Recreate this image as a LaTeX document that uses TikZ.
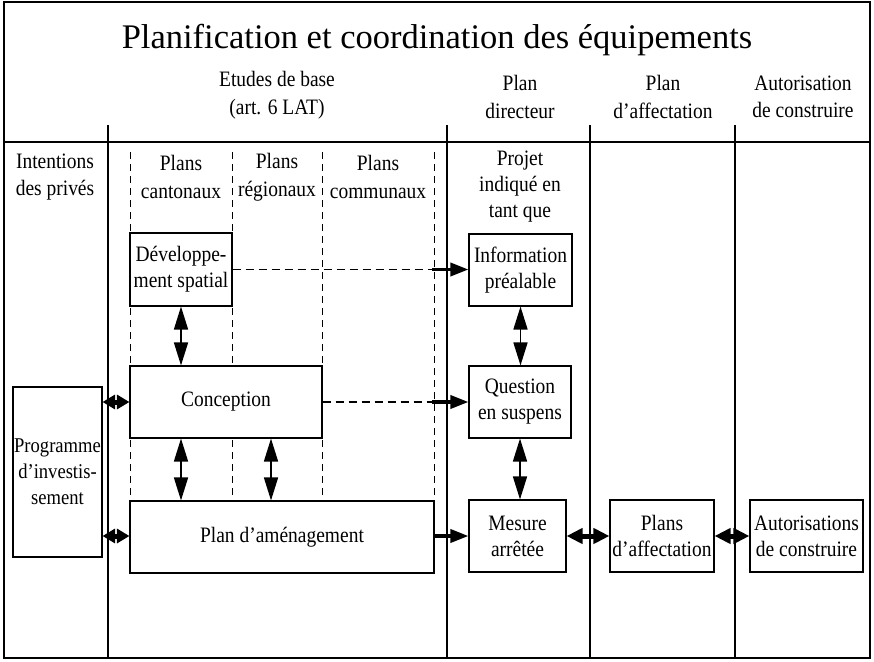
\documentclass[tikz,border=0pt]{standalone}
\usepackage{fontspec}
\setmainfont{Liberation Serif}[FakeStretch=0.885]
\newfontfamily\titlefont{Liberation Serif}
\usetikzlibrary{arrows.meta,calc}
\begin{document}
\begin{tikzpicture}[x=1pt,y=-1pt,
  txt/.style={font=\fontsize{22}{26}\selectfont, align=center, inner sep=0pt},
  htxt/.style={font=\fontsize{22}{27.5}\selectfont, align=center, inner sep=0pt},
  box/.style={draw, line width=1.1pt, fill=white, txt},
  frame/.style={line width=1.1pt},
  vdash/.style={dash pattern=on 7pt off 5pt, line width=1pt},
  hdash/.style={dash pattern=on 8pt off 5pt, line width=1.1pt},
  dbl/.style={line width=1.6pt, {Triangle[length=23pt,width=14pt]}-{Triangle[length=23pt,width=14pt]}},
  sdbl/.style={line width=5pt, {Triangle[length=16pt,width=15pt]}-{Triangle[length=16pt,width=15pt]}},
  ssdbl/.style={line width=5pt, {Triangle[length=12.5pt,width=14pt]}-{Triangle[length=12.5pt,width=14pt]}},
  thickarr/.style={line width=3.5pt, -{Triangle[length=18pt,width=13pt]}}
]
\useasboundingbox (0,0) rectangle (874,661);

% frame and columns
\draw[frame] (4,2) rectangle (870,658);
\draw[frame] (4,142) -- (870,142);
\foreach \xx in {108,447,590,735} \draw[frame] (\xx,125) -- (\xx,658);

% dashed column separators
\foreach \xx in {130,232,322,434} \draw[vdash] (\xx,152) -- (\xx,500);

% header texts
\node[inner sep=0pt, font=\titlefont\fontsize{34.5}{40}\selectfont] (title) at (437,40) {Planification et coordination des équipements};
\node[htxt] (etudes) at (277,95) {Etudes de base\\(art. 6 LAT)};
\node[htxt] (pd) at (520,97) {Plan\\directeur};
\node[htxt] (pa) at (663,97) {Plan\\d’affectation};
\node[htxt] (ac) at (803,97) {Autorisation\\de construire};

\node[htxt] (intent) at (55,177) {Intentions\\des privés};
\node[htxt] (cant) at (181,177) {Plans\\cantonaux};
\node[htxt] (reg) at (277,177) {Plans\\régionaux};
\node[htxt] (comm) at (378,177) {Plans\\communaux};
\node[txt] (projet) at (520,187) {Projet\\indiqué en\\tant que};

% boxes
\node[box, minimum width=102pt, minimum height=73pt] (dev) at (181,269.5) {Développe-\\ment spatial};
\node[box, minimum width=192pt, minimum height=72pt] (conc) at (226,402) {Conception};
\node[box, minimum width=304pt, minimum height=72pt] (amen) at (282,537) {Plan d’aménagement};
\node[box, minimum width=89pt, minimum height=170pt, font=\fontsize{21}{26}\selectfont] (prog) at (57.5,472) {Programme\\d’investis-\\sement};
\node[box, minimum width=103pt, minimum height=72pt] (info) at (520.5,270) {Information\\préalable};
\node[box, minimum width=102pt, minimum height=72pt] (quest) at (520,402) {Question\\en suspens};
\node[box, minimum width=97pt, minimum height=72pt] (mes) at (517.5,536) {Mesure\\arrêtée};
\node[box, minimum width=104pt, minimum height=72pt] (paff) at (662,536) {Plans\\d’affectation};
\node[box, minimum width=113pt, minimum height=72pt] (auto) at (806.5,536) {Autorisations\\de construire};

\coordinate (c271) at (271,0);

% dashed arrows to Plan directeur
\draw[hdash] (dev.east) -- ($(dev.east -| info.west)+(-36,0)$);
\draw[thickarr] ($(dev.east -| info.west)+(-36,0)$) -- (dev.east -| info.west);
\draw[hdash] (conc.east) -- ($(conc.east -| quest.west)+(-36,0)$);
\draw[thickarr] ($(conc.east -| quest.west)+(-36,0)$) -- (conc.east -| quest.west);
\draw[thickarr] (amen.east |- mes.west) -- (mes.west);

% double arrows left part
\draw[dbl] (dev.south) -- (dev.south |- conc.north);
\draw[dbl] (dev.south |- conc.south) -- (dev.south |- amen.north);
\draw[dbl] (c271 |- conc.south) -- (c271 |- amen.north);
\draw[ssdbl] (prog.east |- conc.west) -- (conc.west);
\draw[ssdbl] (prog.east |- mes.west) -- (amen.west |- mes.west);

% double arrows right part
\draw[dbl] (info.south) -- (info.south |- quest.north);
\draw[dbl] (quest.south) -- (quest.south |- mes.north);
\draw[sdbl] (mes.east) -- (paff.west);
\draw[sdbl] (paff.east) -- (auto.west);
\end{tikzpicture}
\end{document}
